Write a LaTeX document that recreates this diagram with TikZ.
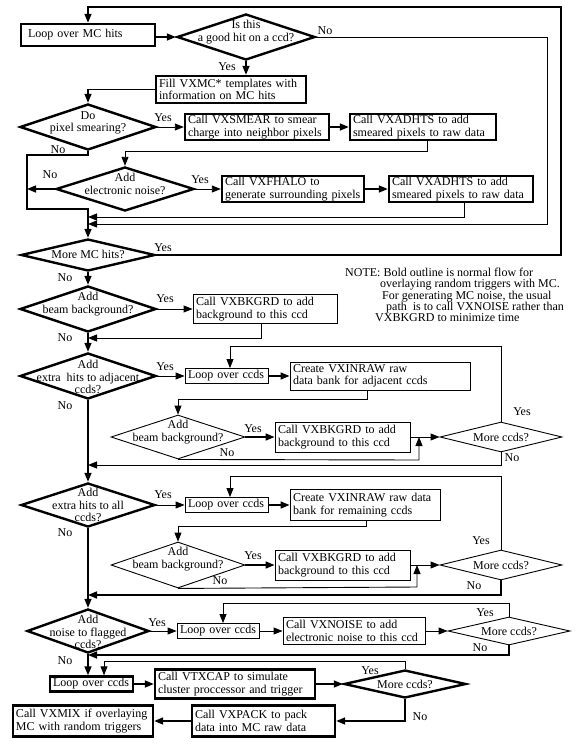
\documentclass[tikz,border=0pt]{standalone}
\usepackage{fontspec}
\setmainfont{Liberation Serif}
\usetikzlibrary{shapes.geometric,arrows.meta,calc}

\begin{document}
\begin{tikzpicture}[x=1pt,y=-1pt,font=\fontsize{12}{12.5}\selectfont,
  >={Triangle[length=9pt,width=7pt]},
  mainbox/.style={rectangle,draw=black,line width=2.4pt,inner xsep=3pt,inner ysep=0pt,align=left},
  sidebox/.style={rectangle,draw=black,line width=0.9pt,inner xsep=3pt,inner ysep=0pt,align=left},
  maindec/.style={diamond,draw=black,line width=2.4pt,inner sep=0pt},
  sidedec/.style={diamond,draw=black,line width=0.9pt,inner sep=0pt},
  dectext/.style={align=center,inner sep=0pt},
  answer/.style={inner sep=0pt},
  mainline/.style={->,line width=1.6pt},
  sideline/.style={->,line width=0.9pt}]
  \useasboundingbox (0,0) rectangle (584,747);

  % loop over the MC hits
  \node (loopMC) [mainbox,text width=120pt,minimum height=22pt,inner xsep=7pt] at (88,35) {Loop over MC hits};
  \node (good) [maindec,minimum width=138pt,minimum height=46pt] at (246,37) {};
  \node (goodtxt) [dectext] at (246,32) {Is this\\a good hit on a ccd?};
  \node (fill) [mainbox,text width=144pt,minimum height=27pt] at (231,89.5) {Fill VXMC* templates with\\information on MC hits};
  \node (dsmear) [maindec,minimum width=136pt,minimum height=46pt] at (88,127) {};
  \node (dsmeartxt) [dectext] at (88,123) {Do\\pixel smearing?};
  \node (smear) [mainbox,text width=138pt,minimum height=26pt] at (257,127) {Call VXSMEAR to smear\\charge into neighbor pixels};
  \node (adhts1) [mainbox,text width=140pt,minimum height=26pt] at (423,127) {Call VXADHTS to add\\smeared pixels to raw data};
  \node (dnoise) [maindec,minimum width=138pt,minimum height=44pt] at (125,189) {};
  \node (dnoisetxt) [dectext] at (125,184) {Add\\electronic noise?};
  \node (fhalo) [mainbox,text width=136pt,minimum height=26pt] at (293,189) {Call VXFHALO to\\generate surrounding pixels};
  \node (adhts2) [mainbox,text width=138pt,minimum height=26pt] at (461,189) {Call VXADHTS to add\\smeared pixels to raw data};
  \node (moreMC) [maindec,minimum width=134pt,minimum height=32pt] at (88,255) {};
  \node (moreMCtxt) [dectext] at (88,254) {More MC hits?};

  % beam background
  \node (dbeam) [maindec,minimum width=136pt,minimum height=46pt] at (88,309) {};
  \node (dbeamtxt) [dectext] at (88,304) {Add\\beam background?};
  \node (bkg1) [sidebox,text width=138pt,minimum height=29pt] at (265,309) {Call VXBKGRD to add\\background to this ccd};

  % adjacent ccds
  \node (dadj) [maindec,minimum width=136pt,minimum height=46pt] at (88,376) {};
  \node (dadjtxt) [dectext] at (88,377) {Add\\extra~ hits to adjacent\\ccds?};
  \node (loopc1) [sidebox,text width=77pt,minimum height=15pt] at (226.5,376) {Loop over ccds};
  \node (create1) [sidebox,text width=174pt,minimum height=28pt] at (380,376) {Create VXINRAW raw\\data bank for adjacent ccds};
  \node (dbeam2) [sidedec,minimum width=134pt,minimum height=44pt] at (178,437) {};
  \node (dbeam2txt) [dectext] at (178,432) {Add\\beam background?};
  \node (bkg2) [sidebox,text width=129pt,minimum height=30pt] at (342.5,437) {Call VXBKGRD to add\\background to this ccd};
  \node (more1) [sidedec,minimum width=122pt,minimum height=30pt] at (501,437) {};
  \node (more1txt) [dectext] at (501,437) {More ccds?};

  % all ccds
  \node (dall) [maindec,minimum width=134pt,minimum height=44pt] at (88,505) {};
  \node (dalltxt) [dectext] at (88,505) {Add\\extra hits to all\\ccds?};
  \node (loopc2) [sidebox,text width=77pt,minimum height=15pt] at (226.5,505) {Loop over ccds};
  \node (create2) [sidebox,text width=144pt,minimum height=31pt] at (365,505) {Create VXINRAW raw data\\bank for remaining ccds};
  \node (dbeam3) [sidedec,minimum width=134pt,minimum height=46pt] at (178,565) {};
  \node (dbeam3txt) [dectext] at (178,559) {Add\\beam background?};
  \node (bkg3) [sidebox,text width=129pt,minimum height=30pt] at (342.5,565) {Call VXBKGRD to add\\background to this ccd};
  \node (more2) [sidedec,minimum width=122pt,minimum height=30pt] at (501,565) {};
  \node (more2txt) [dectext] at (501,565) {More ccds?};

  % flagged ccds
  \node (dflag) [maindec,minimum width=122pt,minimum height=44pt] at (88,631) {};
  \node (dflagtxt) [dectext] at (88,632) {Add\\noise to flagged\\ccds?};
  \node (loopc3) [sidebox,text width=76pt,minimum height=15pt] at (218,631) {Loop over ccds};
  \node (noise) [sidebox,text width=136pt,minimum height=27pt] at (354,631) {Call VXNOISE to add\\electronic noise to this ccd};
  \node (more3) [sidedec,minimum width=122pt,minimum height=28pt] at (509,631) {};
  \node (more3txt) [dectext] at (509,631) {More ccds?};

  % cluster processor and packing
  \node (loopMain) [mainbox,text width=77pt,minimum height=15pt] at (91.5,684) {Loop over ccds};
  \node (vtxcap) [mainbox,text width=154pt,minimum height=29pt] at (235,684) {Call VTXCAP to simulate\\cluster proccessor and trigger};
  \node (more4) [maindec,minimum width=122pt,minimum height=28pt] at (405,684) {};
  \node (more4txt) [dectext] at (405,684) {More ccds?};
  \node (vxpack) [mainbox,text width=137pt,minimum height=31pt] at (263.5,721) {Call VXPACK to pack\\data into MC raw data};
  \node (vxmix) [mainbox,text width=134pt,minimum height=31pt] at (83,721) {Call VXMIX if overlaying\\MC with random triggers};

  % note
  \node (note) [anchor=north west,align=left,inner sep=0pt,font=\fontsize{12}{11.3}\selectfont] at (345,268)
    {NOTE: Bold outline is normal flow for\\
     \hspace*{35pt}overlaying random triggers with MC.\\
     \hspace*{37pt}For generating MC noise, the usual\\
     \hspace*{41pt}path~ is to call VXNOISE rather than\\
     \hspace*{30pt}VXBKGRD to minimize time};

  % answers
  \node (noGood) [answer] at (325,31) {No};
  \node (yesGood) [answer] at (227,67) {Yes};
  \node (yesSmear) [answer] at (163,118) {Yes};
  \node (noSmear) [answer] at (58,150) {No};
  \node (noNoise) [answer] at (50,175) {No};
  \node (yesNoise) [answer] at (200,180) {Yes};
  \node (yesMoreMC) [answer] at (163,248) {Yes};
  \node (noMoreMC) [answer] at (65,278) {No};
  \node (yesBeam) [answer] at (165,299) {Yes};
  \node (noBeam) [answer] at (65,338) {No};
  \node (yesAdj) [answer] at (165,367) {Yes};
  \node (noAdj) [answer] at (65,406) {No};
  \node (yesBeam2) [answer] at (253,429) {Yes};
  \node (noBeam2) [answer] at (227,453) {No};
  \node (yesMore1) [answer] at (522,412) {Yes};
  \node (noMore1) [answer] at (512,458) {No};
  \node (yesAll) [answer] at (163,495) {Yes};
  \node (noAll) [answer] at (65,533) {No};
  \node (yesBeam3) [answer] at (253,556) {Yes};
  \node (noBeam3) [answer] at (220,581) {No};
  \node (yesMore2) [answer] at (481,541) {Yes};
  \node (noMore2) [answer] at (474,586) {No};
  \node (yesFlag) [answer] at (157,623) {Yes};
  \node (noFlag) [answer] at (65,661) {No};
  \node (yesMore3) [answer] at (485,613) {Yes};
  \node (noMore3) [answer] at (480,648) {No};
  \node (yesMore4) [answer] at (370,671) {Yes};
  \node (noMore4) [answer] at (420,717) {No};

  % corners of the connectors
  \coordinate (topR) at (561,7);
  \coordinate (skipR) at (547,224);
  \coordinate (skipL) at (88,224);
  \coordinate (smearR) at (427,151);
  \coordinate (noSmearA) at (27,155);
  \coordinate (noSmearB) at (27,209);
  \coordinate (haloR) at (464,217);
  \coordinate (bkgA) at (261,338);
  \coordinate (createA) at (367,399);
  \coordinate (beamA) at (419,460);
  \coordinate (moreA) at (230,346);
  \coordinate (backA) at (88,465);
  \coordinate (createB) at (366,526);
  \coordinate (beamB) at (417,587);
  \coordinate (moreB) at (230,476);
  \coordinate (backB) at (88,595);
  \coordinate (flagA) at (223,603);
  \coordinate (backC) at (88,655);
  \coordinate (capA) at (104,661);

  % hit loop
  \draw[mainline] (moreMC.east) -| (topR) -| (loopMC.north);
  \draw[mainline] (loopMC.east |- good.west) -- (good.west);
  \draw[sideline] (good.east) -| (skipR) -- (skipL);
  \draw[mainline] (good.south) -- (good.south |- fill.north);
  \draw[mainline] (fill.west) -| (dsmear.north);
  \draw[sideline] (dsmear.east) -- (smear.west);
  \draw[mainline] (smear.east) -- (adhts1.west);
  \draw[sideline] (smearR |- adhts1.south) -- (smearR) -| (dnoise.north);
  \draw[mainline] (dsmear.south) |- (noSmearA) -- (noSmearB) -| (moreMC.north);
  \draw[mainline] (dnoise.west) -- (dnoise.west -| noSmearA);
  \draw[sideline] (dnoise.east) -- (fhalo.west);
  \draw[mainline] (fhalo.east) -- (adhts2.west);
  \draw[sideline] (haloR |- adhts2.south) -- (haloR) -- (haloR -| moreMC.north);
  \draw[mainline] (moreMC.south) -- (dbeam.north);

  % beam background and adjacent ccds
  \draw[sideline] (dbeam.east) -- (bkg1.west);
  \draw[sideline] (bkgA |- bkg1.south) -- (bkgA) -- (bkgA -| dbeam.south);
  \draw[mainline] (dbeam.south) -- (dadj.north);
  \draw[sideline] (dadj.east) -- (loopc1.west);
  \draw[mainline] (loopc1.east) -- (create1.west);
  \draw[sideline] (createA |- create1.south) -- (createA) -| (dbeam2.north);
  \draw[mainline] (dbeam2.east) -- (bkg2.west);
  \draw[sideline] (bkg2.east) -- (more1.west);
  \draw[sideline] (dbeam2.south) -- (beamA) -- (beamA |- more1.west);
  \draw[sideline] (more1.north) |- (moreA) -- (moreA |- loopc1.north);
  \draw[sideline] (more1.south) |- (backA);
  \draw[mainline] (dadj.south) -- (dall.north);

  % all ccds
  \draw[sideline] (dall.east) -- (loopc2.west);
  \draw[mainline] (loopc2.east) -- (create2.west);
  \draw[sideline] (createB |- create2.south) -- (createB) -| (dbeam3.north);
  \draw[mainline] (dbeam3.east) -- (bkg3.west);
  \draw[sideline] (bkg3.east) -- (more2.west);
  \draw[sideline] (dbeam3.south) -- (beamB) -- (beamB |- more2.west);
  \draw[sideline] (more2.north) |- (moreB) -- (moreB |- loopc2.north);
  \draw[mainline] (more2.south) |- (backB);
  \draw[mainline] (dall.south) -- (dflag.north);

  % flagged ccds
  \draw[sideline] (dflag.east) -- (loopc3.west);
  \draw[sideline] (loopc3.east) -- (noise.west);
  \draw[sideline] (noise.east) -- (more3.west);
  \draw[sideline] (more3.north) |- (flagA) -- (flagA |- loopc3.north);
  \draw[mainline] (more3.south) |- (backC);
  \draw[mainline] (dflag.south) -- (dflag.south |- loopMain.north);

  % cluster processor, pack and mix
  \draw[sideline] (more4.north) |- (capA) -- (capA |- loopMain.north);
  \draw[mainline] (loopMain.east) -- (vtxcap.west);
  \draw[mainline] (vtxcap.east) -- (more4.west);
  \draw[mainline] (more4.south) |- (vxpack.east);
  \draw[mainline] (vxpack.west) -- (vxmix.east);
\end{tikzpicture}
\end{document}
